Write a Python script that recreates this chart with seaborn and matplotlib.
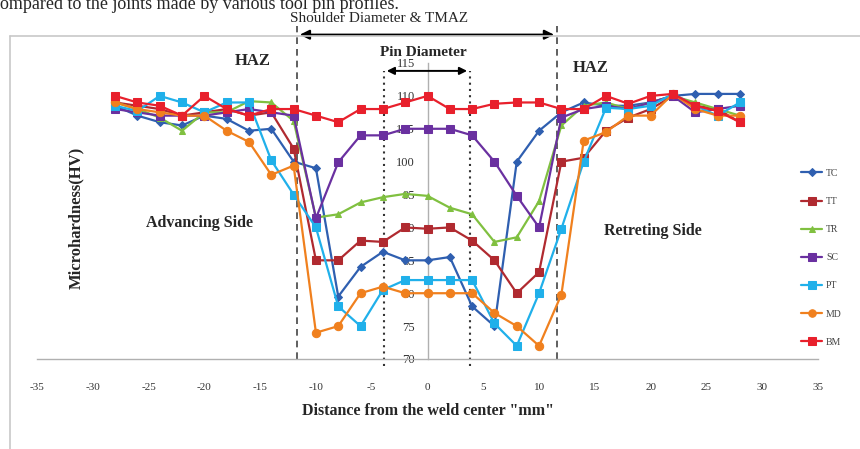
import matplotlib
matplotlib.use("Agg")
import matplotlib.pyplot as plt
from matplotlib.lines import Line2D
import seaborn as sns
import pandas as pd

# distance from weld center (mm)
distance = list(range(-28, 29, 2))

tc = [108.5, 107, 106, 105.5, 107, 106.5, 104.7, 105, 100, 99, 79.5, 84, 86.3, 85, 85,
      85.5, 78, 75, 100, 104.7, 107.5, 109, 108.5, 108.5, 109, 110, 110.3, 110.3, 110.3]
tt = [109, 108.5, 108, 107, 107.5, 108, 107, 107.5, 102, 85, 85, 88, 87.8, 90, 89.8,
      90, 88, 85, 80, 83.2, 100, 100.6, 104.7, 106.7, 108, 110, 108.5, 108, 106]
tr = [109, 108, 106.7, 104.7, 107.5, 107.5, 109.2, 109, 106.2, 91.5, 92, 93.8, 94.6, 95.1, 94.8,
      93, 92, 87.8, 88.5, 94, 105.5, 108.5, 109, 108, 109, 110, 109, 108, 107]
sc = [108, 107.5, 107, 107, 107, 107.5, 108, 107.5, 107, 91.4, 99.9, 104, 104, 105, 105,
      105, 104, 100, 94.8, 90, 106.7, 108, 108.5, 108, 109, 110, 107.5, 108, 108.5]
pt = [108.5, 107.7, 110, 109, 107.5, 109, 109, 100.2, 95, 90, 78, 75, 80.5, 82, 82,
      82, 82, 75.4, 72, 80, 89.8, 100, 108.2, 108, 108.5, 110.3, 108.5, 107, 109]
md = [109, 108, 107.5, 107, 107, 104.7, 103, 98, 99.4, 74, 75, 80, 81, 80, 80,
      80, 80, 77, 75, 72, 79.8, 103.2, 104.5, 107, 107, 110.3, 108, 107, 107]
bm = [110, 109, 108.5, 107, 110, 108, 107, 108, 108, 107, 106, 108, 108, 109, 110,
      108, 108, 108.8, 109, 109, 108, 108, 110, 108.8, 110, 110.3, 108.5, 107.7, 106]

series = ["TC", "TT", "TR", "SC", "PT", "MD", "BM"]
values = [tc, tt, tr, sc, pt, md, bm]
colors = ["#2f5fb0", "#b02a30", "#80c040", "#6a30a0", "#20b0ea", "#f0801e", "#e8202c"]
markers = ["D", "s", "^", "s", "s", "o", "s"]
msizes = [4, 6, 5, 6, 6, 6, 6]

df = pd.DataFrame({"distance": distance})
for name, vals in zip(series, values):
    df[name] = vals

sns.set_style("white")
plt.rcParams["font.family"] = ["Liberation Serif", "DejaVu Serif"]
plt.rcParams["axes.unicode_minus"] = False

fig = plt.figure(figsize=(8.6, 4.49), dpi=100)
ax = fig.add_axes([37 / 860, 90 / 449, 781 / 860, 296 / 449])

for name, col, mk, ms in zip(series, colors, markers, msizes):
    sns.lineplot(data=df, x="distance", y=name, color=col, marker=mk, markersize=ms,
                 markeredgecolor=col, linewidth=1.6, label=name, ax=ax, zorder=3)

ax.set_xlim(-35, 35)
ax.set_ylim(70, 115)
ax.set_xticks(range(-35, 36, 5))
ax.set_yticks(range(70, 116, 5))

for s in ["top", "right"]:
    ax.spines[s].set_visible(False)
ax.spines["left"].set_position(("data", 0))
for s in ["left", "bottom"]:
    ax.spines[s].set_color("#b0b0b0")
    ax.spines[s].set_linewidth(1.0)
ax.tick_params(axis="x", length=3, pad=14, labelsize=8, colors="#b0b0b0", labelcolor="#333333")
ax.tick_params(axis="y", length=3, pad=6, labelsize=9, colors="#b0b0b0", labelcolor="#333333")

ax.set_xlabel('Distance from the weld center "mm"', fontsize=11.5, fontweight="bold", labelpad=8)
ax.set_ylabel("")
fig.text(76 / 860, 1 - 218 / 449, "Microhardness(HV)", rotation=90, fontsize=12,
         fontweight="bold", ha="center", va="center")

# zone boundaries
for xv in [-11.7, 11.6]:
    ax.plot([xv, xv], [70, 120.6], color="#444444", linestyle=(0, (4, 3)), linewidth=1.2,
            clip_on=False, zorder=2)
for xv in [-3.9, 3.8]:
    ax.plot([xv, xv], [69, 113.8], color="#333333", linestyle=(0, (1, 2)), linewidth=1.5,
            clip_on=False, zorder=2)

ax.annotate("", xy=(-11.7, 119.3), xytext=(11.6, 119.3),
            arrowprops=dict(arrowstyle="<|-|>", color="black", lw=1.6, mutation_scale=14),
            annotation_clip=False)
ax.annotate("", xy=(-3.9, 113.8), xytext=(3.8, 113.8),
            arrowprops=dict(arrowstyle="<|-|>", color="black", lw=1.4, mutation_scale=11),
            annotation_clip=False)

ax.text(-4.3, 121.7, "Shoulder Diameter & TMAZ", fontsize=11, ha="center", va="center")
ax.text(-0.4, 116.6, "Pin Diameter", fontsize=11, fontweight="bold", ha="center", va="center")
ax.text(-15.7, 115.3, "HAZ", fontsize=12, fontweight="bold", ha="center", va="center")
ax.text(14.6, 114.2, "HAZ", fontsize=12, fontweight="bold", ha="center", va="center")
ax.text(-20.4, 90.7, "Advancing Side", fontsize=11.5, fontweight="bold", ha="center", va="center")
ax.text(20.2, 89.5, "Retreting Side", fontsize=11.5, fontweight="bold", ha="center", va="center")

ax.legend(loc="upper left", bbox_to_anchor=(797 / 860, 1 - 165 / 449),
          bbox_transform=fig.transFigure, frameon=False, fontsize=7, labelspacing=1.97,
          handlelength=2.2, handletextpad=0.4, borderaxespad=0, markerscale=0.9,
          labelcolor="#444444")

# chart-area frame and clipped caption line from the page
fig.add_artist(Line2D([10 / 860, 1], [1 - 36 / 449, 1 - 36 / 449], color="#c8c8c8", lw=1.2))
fig.add_artist(Line2D([10 / 860, 10 / 860], [0, 1 - 36 / 449], color="#c8c8c8", lw=1.2))
fig.text(-8 / 860, 1 - 4 / 449, "compared to the joints made by various tool pin profiles.",
         fontsize=13, ha="left", va="center")

fig.savefig("out.png", dpi=100)
